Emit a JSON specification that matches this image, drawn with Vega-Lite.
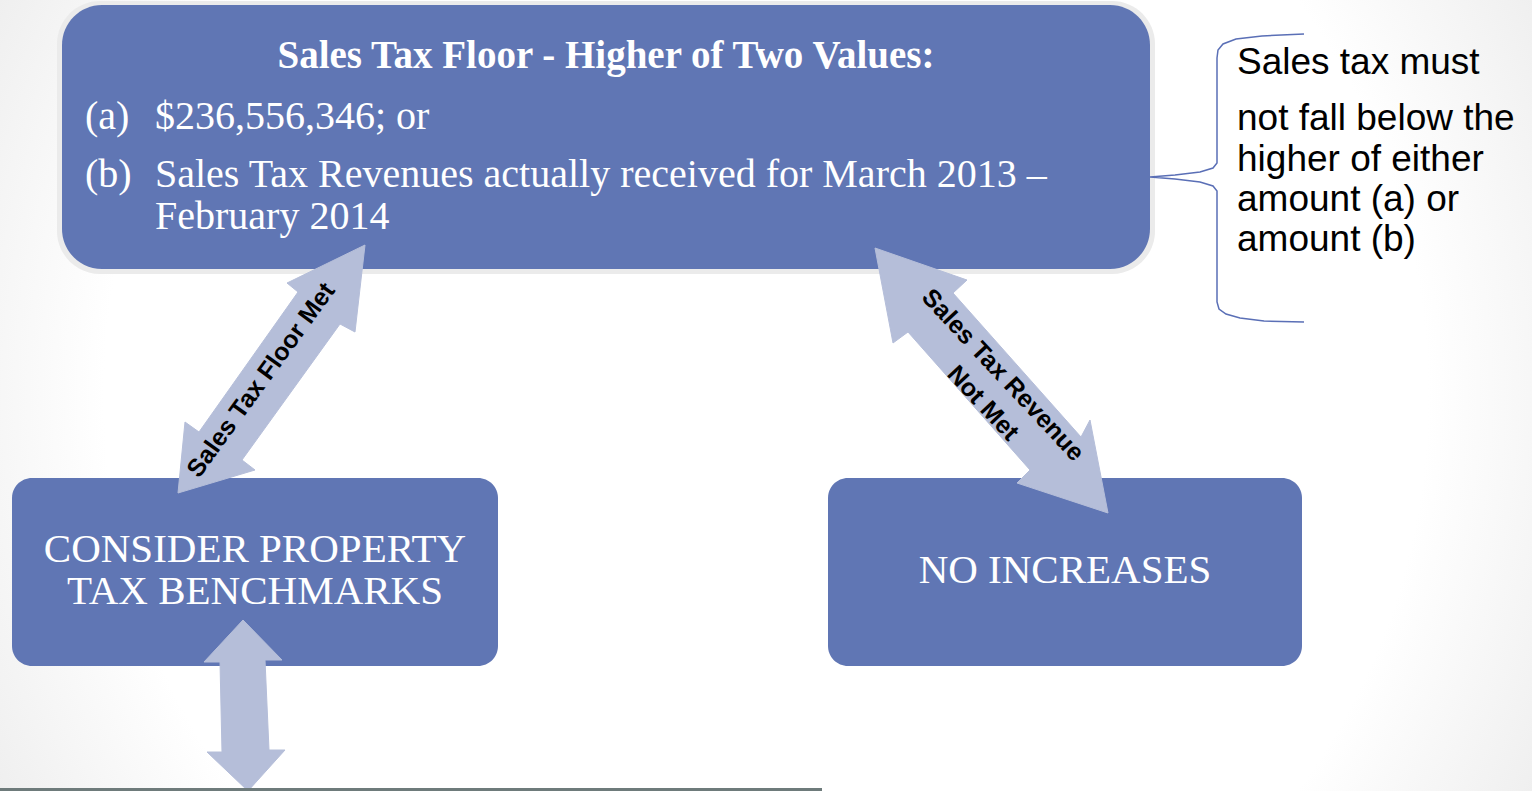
{
  "$schema": "https://vega.github.io/schema/vega-lite/v6.json",
  "width": 1532,
  "height": 791,
  "autosize": {"type": "none"},
  "padding": 0,
  "background": "#ffffff",
  "config": {"view": {"stroke": null}},
  "encoding": {
    "x": {"field": "x", "type": "quantitative", "scale": {"domain": [0, 1532], "nice": false, "zero": false}, "axis": null},
    "y": {"field": "y", "type": "quantitative", "scale": {"domain": [0, 791], "nice": false, "zero": false, "reverse": true}, "axis": null}
  },
  "layer": [
    {
      "data": {"values": [{"x": 0, "x2": 1532, "y": 0, "y2": 791}]},
      "mark": {"type": "rect", "fill": {"gradient": "radial", "x1": 0.5, "y1": 0.5, "x2": 0.5, "y2": 0.5, "r1": 0, "r2": 0.72, "stops": [{"offset": 0, "color": "#ffffff"}, {"offset": 0.6, "color": "#ffffff"}, {"offset": 1, "color": "#dcdcdc"}]}},
      "encoding": {"x2": {"field": "x2"}, "y2": {"field": "y2"}}
    },
    {
      "data": {"values": [{"box": "shadow", "x": 57, "x2": 1155, "y": 1, "y2": 274}]},
      "mark": {"type": "rect", "fill": "#ebebeb", "cornerRadius": 43},
      "encoding": {"x2": {"field": "x2"}, "y2": {"field": "y2"}}
    },
    {
      "data": {"values": [{"box": "top", "x": 62, "x2": 1150, "y": 5, "y2": 269}]},
      "mark": {"type": "rect", "fill": "#6076b4", "cornerRadius": 40},
      "encoding": {"x2": {"field": "x2"}, "y2": {"field": "y2"}}
    },
    {
      "data": {"values": [
        {"box": "consider", "x": 12, "x2": 498, "y": 478, "y2": 666},
        {"box": "none", "x": 828, "x2": 1302, "y": 478, "y2": 666}
      ]},
      "mark": {"type": "rect", "fill": "#6076b4", "cornerRadius": 20},
      "encoding": {"x2": {"field": "x2"}, "y2": {"field": "y2"}}
    },
    {
      "data": {"values": [
        {"id": "a1", "i": 0, "x": 365, "y": 245},
        {"id": "a1", "i": 1, "x": 355, "y": 332},
        {"id": "a1", "i": 2, "x": 340, "y": 324},
        {"id": "a1", "i": 3, "x": 242, "y": 460},
        {"id": "a1", "i": 4, "x": 255, "y": 470},
        {"id": "a1", "i": 5, "x": 178, "y": 493},
        {"id": "a1", "i": 6, "x": 185, "y": 422},
        {"id": "a1", "i": 7, "x": 199, "y": 432},
        {"id": "a1", "i": 8, "x": 298, "y": 292},
        {"id": "a1", "i": 9, "x": 287, "y": 283},
        {"id": "a1", "i": 10, "x": 365, "y": 245},
        {"id": "a2", "i": 0, "x": 875, "y": 248},
        {"id": "a2", "i": 1, "x": 967, "y": 280},
        {"id": "a2", "i": 2, "x": 953, "y": 293},
        {"id": "a2", "i": 3, "x": 1081, "y": 437},
        {"id": "a2", "i": 4, "x": 1090, "y": 420},
        {"id": "a2", "i": 5, "x": 1108, "y": 513},
        {"id": "a2", "i": 6, "x": 1017, "y": 483},
        {"id": "a2", "i": 7, "x": 1030, "y": 470},
        {"id": "a2", "i": 8, "x": 908, "y": 332},
        {"id": "a2", "i": 9, "x": 893, "y": 343},
        {"id": "a2", "i": 10, "x": 875, "y": 248},
        {"id": "a3", "i": 0, "x": 243, "y": 620},
        {"id": "a3", "i": 1, "x": 282, "y": 660},
        {"id": "a3", "i": 2, "x": 265, "y": 660},
        {"id": "a3", "i": 3, "x": 269, "y": 750},
        {"id": "a3", "i": 4, "x": 285, "y": 750},
        {"id": "a3", "i": 5, "x": 248, "y": 791},
        {"id": "a3", "i": 6, "x": 207, "y": 752},
        {"id": "a3", "i": 7, "x": 222, "y": 752},
        {"id": "a3", "i": 8, "x": 220, "y": 662},
        {"id": "a3", "i": 9, "x": 204, "y": 662},
        {"id": "a3", "i": 10, "x": 243, "y": 620}
      ]},
      "mark": {"type": "line", "fill": "#b5bed9", "stroke": "#b5bed9", "strokeWidth": 1, "strokeJoin": "round"},
      "encoding": {"detail": {"field": "id"}, "order": {"field": "i", "type": "quantitative"}}
    },
    {
      "data": {"values": [
        {"id": "rule", "i": 0, "x": 0, "y": 789.5},
        {"id": "rule", "i": 1, "x": 822, "y": 789.5}
      ]},
      "mark": {"type": "line", "stroke": "#6e7b7b", "strokeWidth": 3},
      "encoding": {"detail": {"field": "id"}, "order": {"field": "i", "type": "quantitative"}}
    },
    {
      "data": {"values": [
        {"i": 0, "x": 1304, "y": 34},
        {"i": 1, "x": 1262, "y": 36},
        {"i": 2, "x": 1236, "y": 39},
        {"i": 3, "x": 1223, "y": 44},
        {"i": 4, "x": 1218, "y": 50},
        {"i": 5, "x": 1217, "y": 58},
        {"i": 6, "x": 1217, "y": 163},
        {"i": 7, "x": 1213, "y": 168},
        {"i": 8, "x": 1200, "y": 172},
        {"i": 9, "x": 1175, "y": 175},
        {"i": 10, "x": 1150, "y": 177},
        {"i": 11, "x": 1175, "y": 179},
        {"i": 12, "x": 1200, "y": 182},
        {"i": 13, "x": 1213, "y": 186},
        {"i": 14, "x": 1217, "y": 191},
        {"i": 15, "x": 1217, "y": 302},
        {"i": 16, "x": 1219, "y": 309},
        {"i": 17, "x": 1226, "y": 314},
        {"i": 18, "x": 1240, "y": 318},
        {"i": 19, "x": 1264, "y": 321},
        {"i": 20, "x": 1304, "y": 322}
      ]},
      "mark": {"type": "line", "stroke": "#5a6fb6", "strokeWidth": 1.5, "interpolate": "linear"},
      "encoding": {"order": {"field": "i", "type": "quantitative"}}
    },
    {
      "data": {"values": [{"x": 606, "y": 56, "t": "Sales Tax Floor - Higher of Two Values:"}]},
      "mark": {"type": "text", "font": "Liberation Serif", "fontWeight": "bold", "fontSize": 39, "color": "#ffffff", "align": "center", "baseline": "middle"},
      "encoding": {"text": {"field": "t"}}
    },
    {
      "data": {"values": [
        {"x": 85, "y": 117, "t": "(a)"},
        {"x": 155, "y": 117, "t": "$236,556,346; or"},
        {"x": 85, "y": 175, "t": "(b)"},
        {"x": 155, "y": 175, "t": "Sales Tax Revenues actually received for March 2013 –"},
        {"x": 155, "y": 217, "t": "February 2014"}
      ]},
      "mark": {"type": "text", "font": "Liberation Serif", "fontSize": 40, "color": "#ffffff", "align": "left", "baseline": "middle"},
      "encoding": {"text": {"field": "t"}}
    },
    {
      "data": {"values": [
        {"x": 255, "y": 550, "t": "CONSIDER PROPERTY"},
        {"x": 255, "y": 592, "t": "TAX BENCHMARKS"},
        {"x": 1065, "y": 571, "t": "NO INCREASES"}
      ]},
      "mark": {"type": "text", "font": "Liberation Serif", "fontSize": 41, "color": "#ffffff", "align": "center", "baseline": "middle"},
      "encoding": {"text": {"field": "t"}}
    },
    {
      "data": {"values": [
        {"x": 1237, "y": 63, "t": "Sales tax must"},
        {"x": 1237, "y": 119, "t": "not fall below the"},
        {"x": 1237, "y": 160, "t": "higher of either"},
        {"x": 1237, "y": 200, "t": "amount (a) or"},
        {"x": 1237, "y": 240, "t": "amount (b)"}
      ]},
      "mark": {"type": "text", "font": "Liberation Sans", "fontSize": 37, "color": "#000000", "align": "left", "baseline": "middle"},
      "encoding": {"text": {"field": "t"}}
    },
    {
      "data": {"values": [{"x": 261, "y": 380, "t": "Sales Tax Floor Met"}]},
      "mark": {"type": "text", "font": "Liberation Sans", "fontWeight": "bold", "fontSize": 25, "color": "#000000", "align": "center", "baseline": "middle", "angle": -54},
      "encoding": {"text": {"field": "t"}}
    },
    {
      "data": {"values": [
        {"x": 1003, "y": 375, "t": "Sales Tax Revenue"},
        {"x": 983, "y": 403, "t": "Not Met"}
      ]},
      "mark": {"type": "text", "font": "Liberation Sans", "fontWeight": "bold", "fontSize": 25, "color": "#000000", "align": "center", "baseline": "middle", "angle": 47},
      "encoding": {"text": {"field": "t"}}
    }
  ]
}
